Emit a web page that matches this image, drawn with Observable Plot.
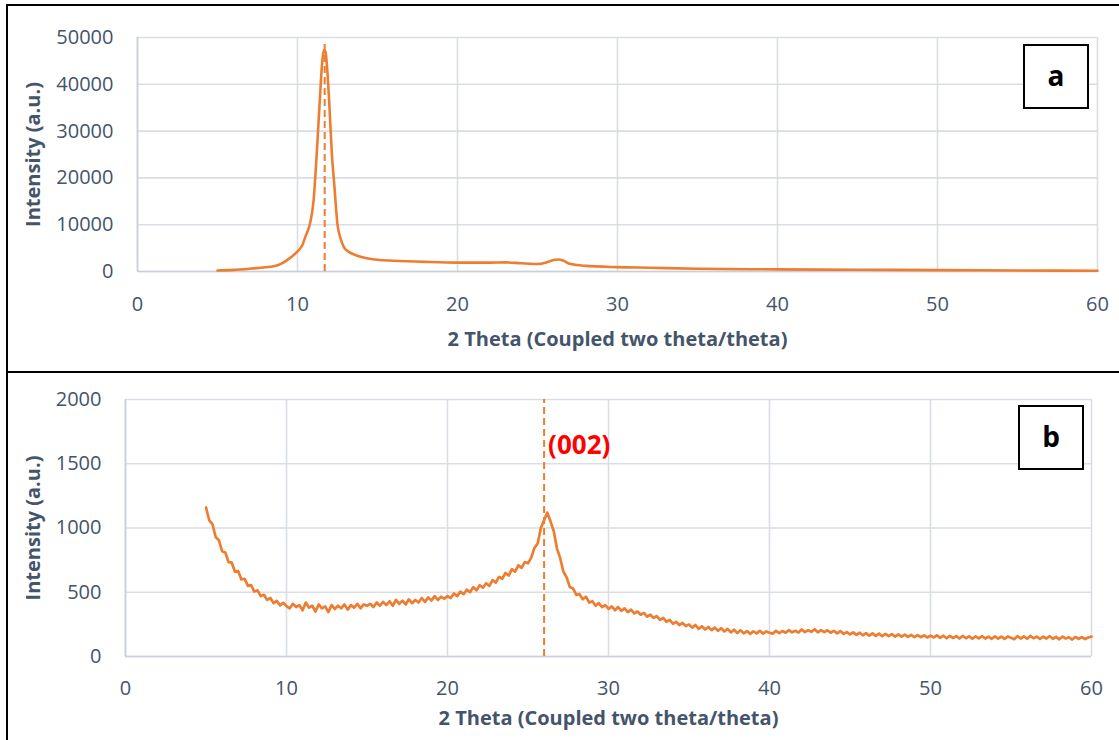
<!DOCTYPE html>
<html><head><meta charset="utf-8">
<script src="https://cdn.jsdelivr.net/npm/d3@7"></script>
<script src="https://cdn.jsdelivr.net/npm/@observablehq/plot@0.6"></script>
<style>
html,body{margin:0;padding:0;background:#fff}
body{width:1119px;height:740px;overflow:hidden;position:relative;font-family:"Open Sans",sans-serif}
.panel{position:absolute;left:6px;width:1130px;border:2px solid #000;background:#fff;box-sizing:content-box}
#pa{top:4px;height:365px}
#pb{top:371px;height:400px}
.panel svg{position:absolute;left:0;top:0;overflow:visible}
.tag{position:absolute;box-sizing:border-box;border:2px solid #000;background:#fff;font:bold 28px "Open Sans",sans-serif;color:#000;display:flex;align-items:center;justify-content:center;padding-bottom:4px}
</style>
</head><body>
<div id="pa" class="panel"></div>
<div id="pb" class="panel"></div>
<script>
// ---------- data ----------
const xTicks = [0, 10, 20, 30, 40, 50, 60];
const yTicksA = [0, 10000, 20000, 30000, 40000, 50000];
const yTicksB = [0, 500, 1000, 1500, 2000];
const xTitle = "2 Theta (Coupled two theta/theta)";
const yTitle = "Intensity (a.u.)";
const panelTags = ["a", "b"];

// panel a: 2θ (deg) and intensity
const twoThetaA = [5, 6, 7, 8, 8.5, 9, 9.5, 10, 10.3, 10.5, 10.8, 11, 11.2, 11.4, 11.55, 11.65, 11.75, 11.85, 12, 12.15, 12.3, 12.5, 12.7, 12.9, 13.2, 13.5, 14, 15, 16, 18, 20, 22, 23, 24, 25, 25.6, 26, 26.3, 26.6, 27, 28, 30, 32, 35, 40, 45, 50, 55, 60];
const intensityA = [200, 350, 600, 900, 1100, 1700, 2800, 4300, 5600, 7500, 10500, 15000, 25000, 37000, 45000, 47300, 47000, 43500, 35000, 25000, 18500, 10000, 7000, 5200, 4200, 3700, 3100, 2500, 2300, 2050, 1900, 1900, 1950, 1750, 1600, 2000, 2450, 2550, 2350, 1650, 1200, 930, 800, 600, 450, 380, 300, 220, 150];
const peakA = [11.7];

// panel b: scan from 5 to 60 deg, step 0.2 deg
const scanStartB = 5, scanStepB = 0.2;
const intensityB = [
// 5.0 - 10.0
1160,1060,1030,930,905,820,810,735,730,660,665,600,605,550,555,505,515,470,480,440,455,415,432,398,418,392,
// 10.2 - 15.0
375,410,385,400,360,420,380,395,350,405,375,390,345,400,370,395,375,405,365,400,380,410,375,405,395,
// 15.2 - 20.0
410,385,420,395,425,400,430,395,440,410,435,405,445,415,440,420,455,425,460,435,470,440,465,450,470,
// 20.2 - 25.0
455,490,470,505,485,520,500,540,515,555,535,570,550,595,575,620,605,650,630,680,660,710,690,735,725,
// 25.2 - 30.0
770,845,880,1000,1060,1120,1050,975,840,765,660,615,540,530,480,485,445,465,420,430,395,415,385,400,370,
// 30.2 - 35.0
390,360,385,355,375,345,365,335,350,325,340,310,325,300,315,285,300,270,285,255,270,245,262,236,250,
// 35.2 - 40.0
225,245,215,235,210,230,205,225,200,220,195,215,188,208,182,205,180,198,176,196,180,200,178,195,185,
// 40.2 - 45.0
178,200,182,198,185,205,188,200,186,210,190,205,192,212,188,206,190,204,185,200,180,198,176,190,172,
// 45.2 - 50.0
188,168,185,165,182,162,180,160,178,158,176,158,174,155,172,154,170,152,168,150,167,150,165,148,162,
// 50.2 - 55.0
148,165,145,162,142,160,144,158,140,160,142,157,138,156,141,158,140,155,138,157,140,155,137,156,145,
// 55.2 - 60.0
135,158,140,156,138,160,142,155,136,154,140,158,138,152,134,155,140,150,132,152,138,150,136,148,155];
const peakB = [26.0];
const peakLabelB = ["(002)"];

// ---------- style ----------
const ORANGE = "#ED7D31";
const TXT = "#44546A";
const GRID = "#d9dde4";
const FONT = "'Open Sans', sans-serif";

const tableA = twoThetaA.map((x, i) => ({x, y: intensityA[i]}));
const tableB = intensityB.map((y, i) => ({x: scanStartB + i * scanStepB, y}));
const plain = d => String(d);

function panel({data, yTicks, yMax, peak, peakTop, margins, height, yTitleDx, xTitleDy, xTickPad, strokeWidth, curve, extra}) {
  return Plot.plot({
    width: 1111,
    height,
    marginLeft: margins[0], marginRight: margins[1], marginTop: margins[2], marginBottom: margins[3],
    style: {fontFamily: FONT, fontSize: "20px", color: TXT, background: "transparent", overflow: "visible"},
    x: {domain: [0, 60], ticks: xTicks},
    y: {domain: [0, yMax], ticks: yTicks},
    marks: [
      Plot.gridX(xTicks, {stroke: GRID, strokeOpacity: 1, strokeWidth: 1.6}),
      Plot.gridY(yTicks, {stroke: GRID, strokeOpacity: 1, strokeWidth: 1.6}),
      Plot.ruleY([0], {stroke: "#c8cfda", strokeWidth: 1.6}),
      Plot.ruleX([0], {stroke: "#c8cfda", strokeWidth: 1.6}),
      Plot.axisX(xTicks, {tickSize: 0, tickPadding: xTickPad, label: null, fontSize: 20, fill: TXT, tickFormat: plain}),
      Plot.axisY(yTicks, {tickSize: 0, tickPadding: 24, label: null, fontSize: 20, fill: TXT, tickFormat: plain}),
      Plot.ruleX(peak, {y1: 0, y2: peakTop, stroke: ORANGE, strokeWidth: 2, strokeDasharray: "7,4"}),
      Plot.line(data, {x: "x", y: "y", stroke: ORANGE, strokeWidth, curve}),
      Plot.text([yTitle], {frameAnchor: "left", textAnchor: "middle", dx: yTitleDx, rotate: -90, fontWeight: "bold", fontSize: 20, fill: TXT}),
      Plot.text([xTitle], {frameAnchor: "bottom", dy: xTitleDy, fontWeight: "bold", fontSize: 20, fill: TXT}),
      ...(extra || [])
    ]
  });
}

const svgA = panel({
  data: tableA, yTicks: yTicksA, yMax: 50000, peak: peakA, peakTop: 49000,
  margins: [129, 22, 31, 100], height: 365, yTitleDx: -104, xTitleDy: 74, xTickPad: 25,
  strokeWidth: 2.6, curve: "monotone-x"
});
document.getElementById("pa").appendChild(svgA);

const svgB = panel({
  data: tableB, yTicks: yTicksB, yMax: 2000, peak: peakB, peakTop: 2000,
  margins: [117, 28, 26, 84], height: 367, yTitleDx: -92, xTitleDy: 68, xTickPad: 24,
  strokeWidth: 2.7, curve: "linear",
  extra: [Plot.text(peakLabelB, {x: peakB, frameAnchor: "top", dy: 36, dx: 4, textAnchor: "start", fill: "#FF0000", fontWeight: "bold", fontSize: 26})]
});
document.getElementById("pb").appendChild(svgB);

// panel tags (a / b) placed in the upper-right corner of each plot frame
const tagPos = [{el: "pa", left: 1015, top: 38}, {el: "pb", left: 1010, top: 32}];
panelTags.forEach((t, i) => {
  const d = document.createElement("div");
  d.className = "tag";
  d.textContent = t;
  d.style.left = tagPos[i].left + "px";
  d.style.top = tagPos[i].top + "px";
  d.style.width = "66px";
  d.style.height = "65px";
  document.getElementById(tagPos[i].el).appendChild(d);
});
</script>
</body></html>
